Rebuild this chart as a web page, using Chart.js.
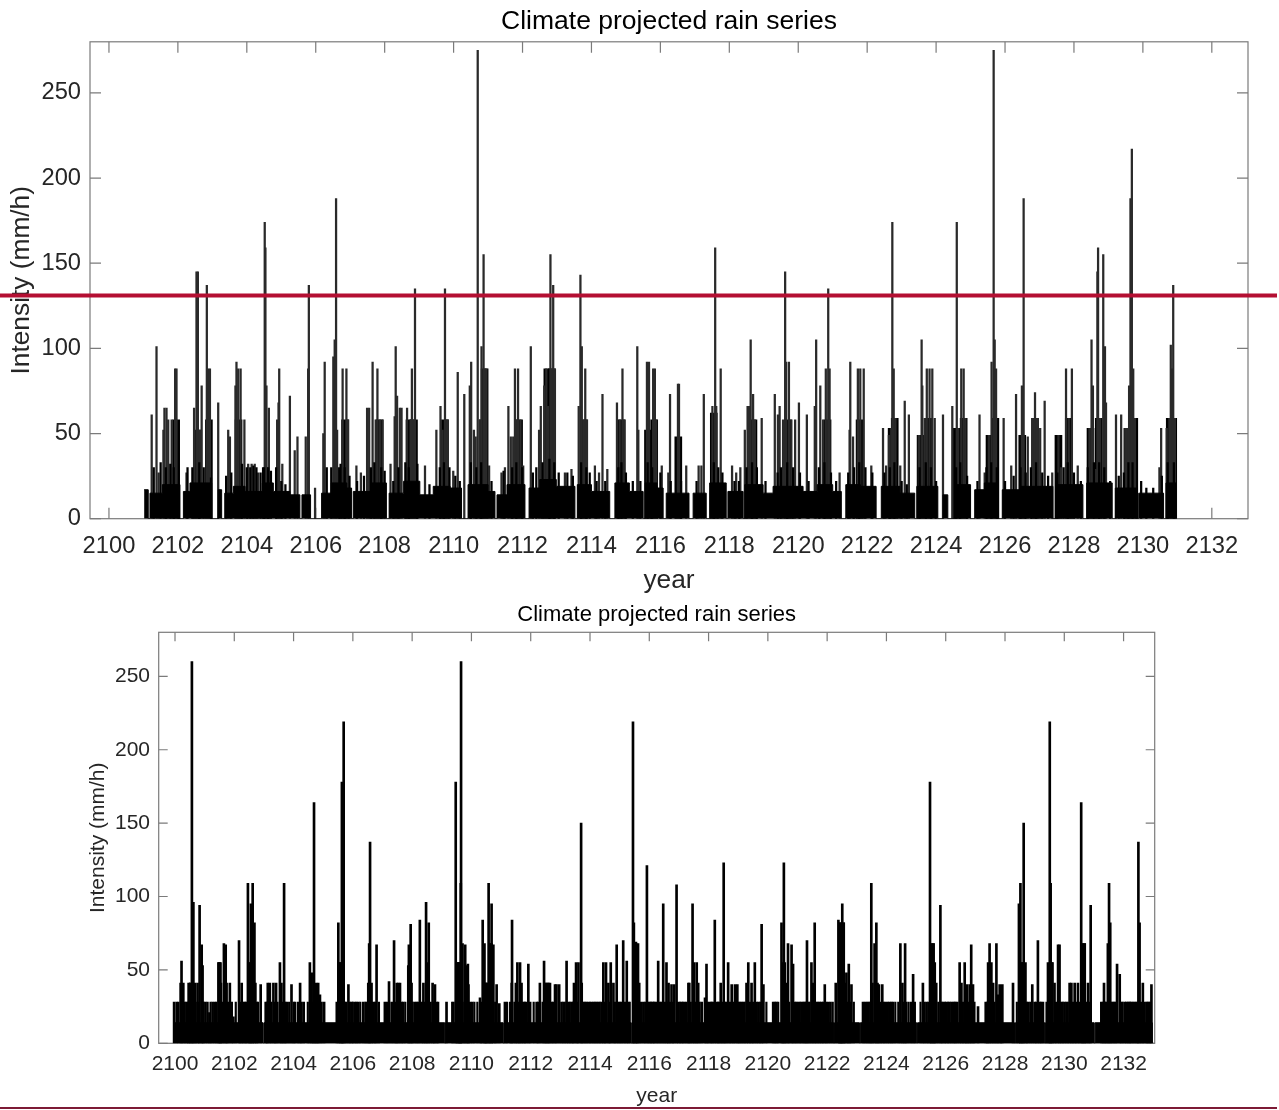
<!DOCTYPE html>
<html>
<head>
<meta charset="utf-8">
<title>Climate projected rain series</title>
<script src="https://cdn.jsdelivr.net/npm/chart.js@4.4.0/dist/chart.umd.min.js"></script>
<style>
  html, body { margin: 0; padding: 0; background: #fff; }
  #page { position: relative; width: 1279px; height: 1110px; overflow: hidden; }
  canvas { position: absolute; left: 0; }
  #cTop { top: 0; }
  #cBot { top: 590px; }
  #rule { position: absolute; left: 0; top: 1107px; width: 1277px; height: 2px; background: #7d1a35; }
</style>
</head>
<body>
<div id="page">
  <canvas id="cTop" width="1279" height="600"></canvas>
  <canvas id="cBot" width="1279" height="520"></canvas>
  <div id="rule"></div>
</div>
<script>
//Datos
const chartTitle = 'Climate projected rain series';
const xTickYears = [2100, 2102, 2104, 2106, 2108, 2110, 2112, 2114, 2116, 2118, 2120, 2122, 2124, 2126, 2128, 2130, 2132];
const yTickValues = [0, 50, 100, 150, 200, 250];
const threshold = 131; //linea roja del grafico superior

//Grafico superior: nivel denso de fondo (escalones) y picos
const topBaseYears = [2101.02, 2101.14, 2101.19, 2101.55, 2102.06, 2102.16, 2102.35, 2102.98, 2103.17, 2103.27,
  2103.36, 2103.61, 2103.95, 2104.45, 2104.77, 2105.25, 2105.54, 2105.6, 2105.85, 2106.17,
  2106.45, 2106.9, 2107.04, 2107.09, 2107.6, 2108.05, 2108.13, 2108.55, 2109.02, 2109.41,
  2109.9, 2110.23, 2110.42, 2111.0, 2111.2, 2111.26, 2111.55, 2112.07, 2112.19, 2112.5,
  2112.98, 2113.52, 2113.59, 2114.0, 2114.53, 2114.68, 2115.1, 2115.5, 2115.56, 2115.9,
  2116.08, 2116.17, 2116.83, 2116.95, 2117.33, 2117.43, 2117.91, 2117.96, 2118.4, 2118.45,
  2118.98, 2119.27, 2120.14, 2120.55, 2121.0, 2121.25, 2121.38, 2121.8, 2122.26, 2122.41,
  2122.95, 2123.38, 2123.44, 2124.05, 2124.2, 2124.34, 2124.54, 2125.0, 2125.12, 2125.4,
  2125.79, 2125.92, 2126.42, 2127.39, 2127.48, 2128.26, 2128.37, 2129.11, 2129.2, 2129.8,
  2129.88, 2130.6, 2130.67, 2130.96];
const topBaseLevels = [17, 0, 15, 20, 0, 16, 21, 0, 17, 0,
  15, 19, 16, 21, 16, 14, 0, 14, 0, 15,
  21, 18, 0, 16, 21, 0, 15, 22, 14, 19,
  18, 0, 20, 16, 0, 14, 20, 0, 18, 23,
  19, 0, 20, 16, 0, 21, 16, 0, 21, 18,
  0, 15, 0, 15, 0, 21, 0, 16, 0, 20,
  15, 19, 16, 20, 16, 0, 20, 19, 0, 19,
  15, 0, 19, 0, 14, 0, 20, 0, 17, 21,
  0, 17, 19, 0, 20, 0, 21, 0, 18, 0,
  15, 0, 21, 0];
const topSpikes = [
  [2101.24, 61], [2101.38, 101], [2101.44, 27], [2101.58, 52], [2101.61, 65], [2101.67, 65], [2101.72, 58], [2101.82, 58], [2101.92, 88], [2101.96, 88],
  [2102.25, 27], [2102.47, 65], [2102.54, 145], [2102.58, 145], [2102.64, 52], [2102.69, 78], [2102.84, 137], [2102.88, 88], [2102.93, 88],
  [2103.17, 68], [2103.46, 52], [2103.51, 48], [2103.67, 78], [2103.70, 92], [2103.75, 88], [2103.82, 88], [2103.93, 58],
  [2104.04, 32], [2104.14, 32], [2104.23, 32], [2104.33, 27], [2104.52, 174], [2104.54, 159], [2104.57, 78], [2104.64, 65], [2104.88, 58], [2104.92, 68], [2104.94, 88],
  [2105.03, 32], [2105.25, 72], [2105.39, 40], [2105.47, 48], [2105.71, 48], [2105.78, 88], [2105.80, 137], [2105.98, 18],
  [2106.22, 50], [2106.26, 92], [2106.51, 95], [2106.55, 105], [2106.59, 188], [2106.62, 52], [2106.78, 88], [2106.89, 88], [2106.94, 58],
  [2107.18, 31], [2107.31, 27], [2107.49, 65], [2107.55, 65], [2107.65, 92], [2107.74, 58], [2107.79, 88], [2107.86, 58], [2107.94, 58],
  [2108.17, 32], [2108.29, 60], [2108.32, 101], [2108.36, 72], [2108.44, 65], [2108.49, 65], [2108.65, 65], [2108.75, 58], [2108.79, 88], [2108.83, 58], [2108.88, 135],
  [2109.17, 31], [2109.50, 52], [2109.62, 66], [2109.68, 52], [2109.75, 135], [2109.79, 58], [2109.83, 58], [2109.99, 28],
  [2110.12, 86], [2110.31, 73], [2110.47, 78], [2110.51, 92], [2110.59, 52], [2110.64, 48], [2110.70, 275], [2110.76, 58], [2110.81, 101], [2110.87, 155], [2110.91, 88], [2110.95, 88],
  [2111.03, 31], [2111.39, 27], [2111.49, 30], [2111.59, 66], [2111.66, 48], [2111.73, 48], [2111.78, 88], [2111.84, 58], [2111.87, 88], [2111.94, 58],
  [2112.02, 31], [2112.24, 101], [2112.48, 52], [2112.53, 66], [2112.63, 78], [2112.69, 88], [2112.74, 66], [2112.81, 155], [2112.85, 88], [2112.89, 137], [2112.94, 88],
  [2113.23, 27], [2113.42, 29], [2113.63, 66], [2113.68, 143], [2113.72, 101], [2113.78, 58], [2113.82, 88], [2113.87, 58],
  [2114.10, 31], [2114.22, 27], [2114.32, 73], [2114.46, 29], [2114.74, 68], [2114.82, 58], [2114.90, 88], [2114.95, 58],
  [2115.33, 101], [2115.36, 52], [2115.61, 92], [2115.67, 92], [2115.79, 88], [2115.84, 88], [2115.88, 58],
  [2116.04, 31], [2116.23, 27], [2116.28, 73], [2116.51, 79], [2116.54, 79], [2116.75, 31],
  [2117.11, 31], [2117.19, 31], [2117.26, 73], [2117.51, 66], [2117.59, 159], [2117.62, 66], [2117.75, 88],
  [2118.08, 31], [2118.20, 27], [2118.32, 30], [2118.45, 52], [2118.53, 66], [2118.57, 66], [2118.62, 105], [2118.69, 73], [2118.74, 58], [2118.94, 59],
  [2119.32, 73], [2119.41, 61], [2119.46, 66], [2119.56, 58], [2119.62, 145], [2119.65, 92], [2119.73, 92], [2119.80, 58], [2119.91, 58],
  [2120.02, 68], [2120.25, 61], [2120.48, 66], [2120.52, 105], [2120.64, 78], [2120.72, 58], [2120.80, 88], [2120.87, 135], [2120.91, 88],
  [2121.20, 27], [2121.49, 52], [2121.51, 92], [2121.59, 48], [2121.73, 88], [2121.80, 88], [2121.90, 88],
  [2122.12, 31], [2122.46, 53], [2122.55, 31], [2122.63, 49], [2122.70, 53], [2122.73, 174], [2122.77, 88], [2122.82, 59], [2122.96, 31],
  [2123.09, 69], [2123.21, 61], [2123.50, 49], [2123.58, 105], [2123.60, 78], [2123.67, 59], [2123.73, 88], [2123.81, 88], [2123.89, 88], [2123.96, 59],
  [2124.20, 61], [2124.47, 66], [2124.60, 174], [2124.64, 53], [2124.73, 88], [2124.80, 88], [2124.85, 59],
  [2125.26, 61], [2125.41, 27], [2125.53, 49], [2125.61, 92], [2125.67, 275], [2125.70, 105], [2125.74, 88], [2125.96, 59],
  [2126.18, 31], [2126.32, 73], [2126.49, 78], [2126.54, 188], [2126.66, 48], [2126.81, 59], [2126.87, 74], [2126.93, 59],
  [2127.02, 53], [2127.15, 69], [2127.37, 27], [2127.55, 49], [2127.63, 30], [2127.77, 88], [2127.85, 59], [2127.94, 88],
  [2128.11, 31], [2128.45, 53], [2128.51, 105], [2128.55, 78], [2128.64, 29], [2128.68, 145], [2128.70, 159], [2128.76, 59], [2128.85, 155], [2128.90, 101], [2128.93, 68],
  [2129.22, 61], [2129.37, 61], [2129.49, 53], [2129.54, 53], [2129.60, 78], [2129.64, 188], [2129.68, 217], [2129.72, 88], [2129.77, 59],
  [2130.48, 30], [2130.53, 53], [2130.69, 53], [2130.77, 59], [2130.81, 102], [2130.85, 88], [2130.88, 137], [2130.93, 59]
];
//peine de barras bajas dentro de cada temporada
const topComb = [
  [2101.30, 30], [2101.50, 33], [2101.65, 30], [2101.78, 32], [2101.88, 30], [2102.02, 20], [2102.28, 30], [2102.42, 30], [2102.62, 33], [2102.75, 30],
  [2102.96, 24], [2103.40, 25], [2103.55, 27], [2103.86, 32], [2104.00, 30], [2104.10, 30], [2104.19, 31], [2104.28, 30], [2104.40, 27], [2104.50, 30],
  [2104.62, 30], [2104.70, 28], [2104.85, 30], [2105.00, 22], [2105.12, 20], [2106.32, 30], [2106.45, 30], [2106.68, 30], [2106.72, 32], [2106.84, 30],
  [2106.98, 25], [2107.20, 22], [2107.40, 25], [2107.60, 30], [2107.70, 33], [2107.90, 30], [2108.00, 28], [2108.25, 22], [2108.40, 30], [2108.60, 33],
  [2108.70, 30], [2108.95, 32], [2109.30, 20], [2109.60, 30], [2109.72, 33], [2109.88, 30], [2110.05, 25], [2110.18, 22], [2110.50, 33], [2110.66, 30],
  [2110.80, 33], [2111.10, 22], [2111.45, 28], [2111.70, 30], [2111.82, 33], [2111.99, 30], [2112.30, 27], [2112.40, 30], [2112.58, 33], [2112.78, 35],
  [2112.92, 33], [2113.05, 27], [2113.30, 27], [2113.46, 25], [2113.70, 33], [2113.85, 30], [2113.95, 27], [2114.15, 22], [2114.40, 22], [2114.78, 30],
  [2114.87, 33], [2115.00, 27], [2115.20, 22], [2115.42, 22], [2115.63, 33], [2115.76, 30], [2116.00, 27], [2116.30, 22], [2116.60, 22], [2117.05, 22],
  [2117.55, 33], [2117.68, 30], [2117.80, 27], [2118.15, 22], [2118.28, 22], [2118.50, 30], [2118.66, 33], [2118.80, 30], [2119.05, 22], [2119.40, 27],
  [2119.50, 30], [2119.68, 33], [2119.85, 30], [2120.05, 27], [2120.30, 22], [2120.60, 30], [2120.76, 33], [2120.95, 27], [2121.10, 22], [2121.45, 27],
  [2121.62, 30], [2121.77, 33], [2121.95, 30], [2122.15, 27], [2122.50, 27], [2122.66, 30], [2122.79, 33], [2123.00, 22], [2123.15, 20], [2123.52, 30],
  [2123.70, 33], [2123.85, 30], [2124.00, 22], [2124.58, 30], [2124.70, 33], [2124.90, 25], [2125.20, 22], [2125.46, 30], [2125.60, 33], [2125.76, 30],
  [2126.00, 22], [2126.25, 25], [2126.45, 30], [2126.60, 27], [2126.75, 30], [2126.90, 33], [2127.08, 27], [2127.25, 25], [2127.52, 27], [2127.70, 30],
  [2127.82, 33], [2128.00, 27], [2128.20, 22], [2128.40, 30], [2128.58, 33], [2128.73, 33], [2128.88, 30], [2129.05, 22], [2129.30, 25], [2129.45, 27],
  [2129.58, 33], [2129.70, 33], [2129.95, 22], [2130.10, 18], [2130.30, 18], [2130.55, 25], [2130.72, 33], [2130.90, 33]
];
//bloques densos (muchas barras juntas)
const topClumps = [
  [2101.95, 58], [2102.56, 52], [2102.90, 58], [2103.76, 58], [2104.55, 30], [2106.85, 58], [2107.85, 58], [2108.72, 58], [2108.85, 58],
  [2109.75, 58], [2110.85, 58], [2110.90, 88], [2111.90, 58], [2112.72, 88], [2112.85, 88], [2113.78, 58], [2114.88, 58], [2115.64, 52],
  [2115.82, 58], [2116.52, 48], [2117.55, 62], [2118.70, 58], [2119.70, 58], [2120.85, 58], [2121.78, 58], [2122.71, 53], [2122.80, 59],
  [2123.55, 49], [2123.78, 59], [2124.60, 53], [2124.80, 59], [2125.55, 49], [2125.72, 59], [2126.50, 49], [2126.87, 59], [2127.55, 49],
  [2127.85, 59], [2128.48, 53], [2128.72, 59], [2129.55, 53], [2129.75, 59], [2130.78, 59], [2130.88, 59]
];

//Grafico inferior
const botBaseYears = [2099.94, 2102.97, 2103.0, 2109.1, 2109.13, 2111.07, 2111.1, 2115.39, 2115.42, 2122.22,
  2122.25, 2123.09, 2123.12, 2125.02, 2125.05, 2128.32, 2128.35, 2129.34, 2129.37, 2131.01,
  2131.04, 2132.97];
const botBaseLevels = [14, 0, 14, 0, 14, 0, 14, 0, 14, 0,
  14, 0, 14, 0, 14, 0, 14, 0, 14, 0,
  14, 0];
const botSpikes = [
  [2099.97, 28], [2100.11, 28], [2100.19, 41], [2100.22, 56], [2100.28, 41], [2100.39, 28], [2100.46, 41], [2100.51, 41], [2100.57, 260], [2100.62, 96],
  [2100.67, 41], [2100.76, 41], [2100.83, 94], [2100.90, 67], [2100.93, 53], [2100.96, 28], [2101.03, 28], [2101.16, 21], [2101.27, 28], [2101.35, 28],
  [2101.48, 55], [2101.51, 55], [2101.55, 41], [2101.60, 28], [2101.65, 68], [2101.71, 67], [2101.74, 41], [2101.78, 28], [2101.85, 41], [2101.97, 18],
  [2102.16, 70], [2102.25, 41], [2102.30, 28], [2102.36, 28], [2102.46, 109], [2102.51, 55], [2102.56, 95], [2102.62, 109], [2102.68, 82], [2102.75, 28],
  [2102.89, 40], [2103.06, 28], [2103.13, 41], [2103.20, 41], [2103.32, 41], [2103.41, 41], [2103.54, 55], [2103.59, 41], [2103.68, 109], [2103.77, 28],
  [2103.93, 40], [2104.05, 28], [2104.22, 41], [2104.27, 28], [2104.55, 55], [2104.61, 48], [2104.69, 164], [2104.76, 41], [2104.80, 28], [2104.83, 41],
  [2104.89, 33], [2105.03, 28], [2105.51, 82], [2105.57, 55], [2105.63, 178], [2105.65, 41], [2105.69, 219], [2105.73, 28], [2105.85, 40], [2105.96, 28],
  [2106.07, 28], [2106.18, 28], [2106.35, 28], [2106.52, 41], [2106.55, 68], [2106.58, 137], [2106.63, 41], [2106.69, 28], [2106.80, 67], [2107.08, 28],
  [2107.22, 42], [2107.31, 28], [2107.39, 70], [2107.48, 41], [2107.53, 41], [2107.59, 41], [2107.70, 28], [2107.87, 53], [2107.89, 67], [2107.95, 81],
  [2107.98, 41], [2108.09, 28], [2108.20, 28], [2108.26, 84], [2108.38, 41], [2108.47, 96], [2108.51, 55], [2108.56, 82], [2108.62, 28], [2108.69, 41],
  [2108.77, 40], [2108.83, 28], [2109.16, 28], [2109.47, 178], [2109.50, 55], [2109.56, 55], [2109.60, 55], [2109.64, 109], [2109.65, 260], [2109.70, 68],
  [2109.79, 67], [2109.84, 53], [2109.88, 54], [2109.90, 40], [2109.95, 28], [2110.03, 28], [2110.29, 31], [2110.38, 84], [2110.44, 68], [2110.48, 41],
  [2110.51, 41], [2110.58, 109], [2110.63, 68], [2110.68, 95], [2110.74, 67], [2110.85, 40], [2110.94, 27], [2111.13, 28], [2111.36, 41], [2111.37, 84],
  [2111.50, 41], [2111.55, 55], [2111.64, 55], [2111.69, 41], [2111.75, 28], [2111.84, 28], [2111.92, 54], [2111.98, 28], [2112.20, 28], [2112.31, 41],
  [2112.45, 56], [2112.51, 41], [2112.59, 41], [2112.65, 41], [2112.71, 28], [2112.82, 40], [2112.87, 40], [2112.96, 40], [2113.04, 28], [2113.21, 56],
  [2113.27, 28], [2113.38, 28], [2113.46, 41], [2113.53, 55], [2113.61, 55], [2113.70, 150], [2113.72, 41], [2113.83, 28], [2113.94, 28], [2114.06, 28],
  [2114.17, 28], [2114.28, 28], [2114.39, 28], [2114.45, 55], [2114.54, 55], [2114.62, 41], [2114.70, 55], [2114.79, 41], [2114.90, 67], [2115.01, 28],
  [2115.12, 70], [2115.24, 56], [2115.29, 28], [2115.45, 219], [2115.48, 82], [2115.55, 69], [2115.62, 68], [2115.66, 41], [2115.80, 28], [2115.92, 121],
  [2116.02, 28], [2116.11, 28], [2116.19, 28], [2116.30, 56], [2116.36, 28], [2116.47, 95], [2116.52, 28], [2116.58, 55], [2116.65, 41], [2116.75, 40],
  [2116.84, 40], [2116.92, 108], [2116.98, 28], [2117.09, 28], [2117.20, 28], [2117.32, 41], [2117.35, 41], [2117.46, 95], [2117.51, 55], [2117.60, 55],
  [2117.65, 41], [2117.77, 28], [2117.88, 31], [2117.93, 54], [2118.05, 28], [2118.14, 28], [2118.21, 84], [2118.27, 28], [2118.36, 28], [2118.41, 41],
  [2118.51, 123], [2118.55, 28], [2118.66, 55], [2118.78, 40], [2118.89, 40], [2118.97, 40], [2119.06, 28], [2119.17, 28], [2119.28, 41], [2119.34, 55],
  [2119.45, 41], [2119.56, 55], [2119.68, 28], [2119.79, 81], [2119.85, 40], [2120.18, 28], [2120.24, 28], [2120.29, 28], [2120.46, 82], [2120.50, 55],
  [2120.54, 123], [2120.57, 55], [2120.62, 41], [2120.68, 68], [2120.80, 67], [2120.85, 54], [2120.91, 28], [2121.02, 28], [2121.19, 28], [2121.24, 28],
  [2121.32, 70], [2121.36, 28], [2121.47, 55], [2121.52, 41], [2121.58, 82], [2121.63, 28], [2121.69, 28], [2121.75, 28], [2121.81, 28], [2121.92, 40],
  [2122.03, 28], [2122.18, 28], [2122.29, 41], [2122.38, 84], [2122.42, 82], [2122.46, 55], [2122.51, 95], [2122.56, 82], [2122.60, 41], [2122.65, 48],
  [2122.73, 54], [2122.82, 40], [2123.21, 28], [2123.28, 28], [2123.35, 28], [2123.49, 109], [2123.53, 41], [2123.60, 68], [2123.66, 82], [2123.70, 41],
  [2123.75, 40], [2123.86, 40], [2123.98, 28], [2124.11, 28], [2124.22, 28], [2124.47, 68], [2124.54, 41], [2124.63, 68], [2124.67, 28], [2124.90, 47],
  [2125.23, 41], [2125.35, 28], [2125.47, 178], [2125.52, 68], [2125.59, 68], [2125.63, 55], [2125.68, 41], [2125.82, 94], [2125.91, 28], [2126.02, 28],
  [2126.13, 28], [2126.25, 28], [2126.34, 28], [2126.47, 55], [2126.53, 41], [2126.64, 55], [2126.72, 40], [2126.81, 40], [2126.86, 67], [2126.92, 40],
  [2127.09, 25], [2127.35, 28], [2127.43, 55], [2127.48, 68], [2127.54, 55], [2127.60, 41], [2127.71, 68], [2127.76, 33], [2127.82, 40], [2127.91, 40],
  [2128.27, 41], [2128.47, 95], [2128.52, 109], [2128.58, 55], [2128.63, 150], [2128.69, 55], [2128.78, 28], [2128.92, 40], [2129.00, 28], [2129.11, 70],
  [2129.17, 28], [2129.28, 28], [2129.45, 55], [2129.51, 219], [2129.54, 109], [2129.60, 55], [2129.67, 41], [2129.79, 67], [2129.84, 67], [2129.90, 28],
  [2130.01, 28], [2130.18, 41], [2130.24, 41], [2130.29, 28], [2130.35, 41], [2130.46, 41], [2130.57, 164], [2130.63, 68], [2130.69, 68], [2130.80, 41],
  [2130.89, 94], [2131.25, 28], [2131.34, 41], [2131.42, 28], [2131.47, 68], [2131.51, 109], [2131.55, 82], [2131.64, 28], [2131.78, 54], [2131.87, 47],
  [2131.92, 28], [2132.04, 28], [2132.09, 28], [2132.18, 28], [2132.26, 28], [2132.32, 28], [2132.43, 28], [2132.50, 137], [2132.54, 82], [2132.60, 28],
  [2132.65, 41], [2132.77, 28], [2132.86, 28], [2132.94, 40]
];
//barras de ~28 que rellenan la franja baja
const botComb = [
  [2100.05, 28], [2100.33, 28], [2100.43, 28], [2100.70, 28], [2100.80, 28], [2101.10, 28], [2101.20, 28], [2101.40, 28], [2101.92, 28], [2102.05, 28],
  [2102.20, 28], [2102.40, 28], [2102.72, 41], [2102.80, 28], [2103.10, 28], [2103.25, 28], [2103.37, 28], [2103.46, 28], [2103.63, 28], [2103.72, 28],
  [2103.85, 28], [2104.00, 28], [2104.15, 28], [2104.35, 28], [2104.48, 28], [2104.65, 28], [2104.72, 28], [2104.95, 28], [2105.45, 28], [2105.78, 28],
  [2105.90, 28], [2106.00, 28], [2106.12, 28], [2106.25, 28], [2106.42, 28], [2106.46, 28], [2106.75, 28], [2106.88, 28], [2107.15, 28], [2107.45, 28],
  [2107.65, 28], [2107.77, 28], [2108.02, 28], [2108.15, 28], [2108.33, 28], [2108.42, 28], [2108.73, 28], [2108.88, 28], [2109.35, 28], [2109.40, 28],
  [2109.76, 28], [2110.10, 28], [2110.20, 28], [2110.33, 28], [2110.80, 28], [2111.20, 28], [2111.30, 28], [2111.45, 28], [2111.60, 28], [2111.80, 28],
  [2112.10, 28], [2112.25, 28], [2112.40, 28], [2112.76, 28], [2113.10, 28], [2113.15, 28], [2113.32, 28], [2113.42, 28], [2113.58, 28], [2113.78, 28],
  [2113.88, 28], [2114.00, 28], [2114.12, 28], [2114.22, 28], [2114.33, 28], [2114.50, 28], [2114.66, 28], [2114.84, 28], [2114.96, 28], [2115.06, 28],
  [2115.18, 28], [2115.34, 28], [2115.58, 28], [2115.72, 28], [2115.86, 28], [2115.97, 28], [2116.06, 28], [2116.15, 28], [2116.25, 28], [2116.41, 28],
  [2116.62, 28], [2116.70, 28], [2116.80, 28], [2117.04, 28], [2117.14, 28], [2117.26, 28], [2117.40, 28], [2117.56, 28], [2117.70, 28], [2117.98, 28],
  [2118.10, 28], [2118.32, 28], [2118.46, 28], [2118.60, 28], [2118.72, 28], [2118.84, 28], [2119.01, 28], [2119.11, 28], [2119.22, 28], [2119.40, 28],
  [2119.50, 28], [2119.62, 28], [2119.74, 28], [2119.95, 28], [2120.35, 28], [2120.72, 28], [2120.96, 28], [2121.08, 28], [2121.13, 28], [2121.28, 28],
  [2121.41, 28], [2121.86, 28], [2121.97, 28], [2122.10, 28], [2122.70, 28], [2122.77, 28], [2122.90, 28], [2123.40, 28], [2123.45, 28], [2123.80, 28],
  [2123.92, 28], [2124.05, 28], [2124.17, 28], [2124.30, 28], [2124.40, 28], [2124.58, 28], [2124.75, 28], [2124.83, 28], [2124.96, 28], [2125.15, 28],
  [2125.28, 28], [2125.41, 28], [2125.75, 28], [2125.86, 28], [2125.97, 28], [2126.08, 28], [2126.19, 28], [2126.30, 28], [2126.40, 28], [2126.58, 28],
  [2126.68, 28], [2126.76, 28], [2126.97, 28], [2127.40, 28], [2127.65, 28], [2127.87, 28], [2128.40, 28], [2128.73, 28], [2128.85, 28], [2129.05, 28],
  [2129.22, 28], [2129.40, 28], [2129.72, 28], [2129.95, 28], [2130.07, 28], [2130.12, 28], [2130.40, 28], [2130.51, 28], [2130.75, 28], [2130.85, 28],
  [2131.30, 28], [2131.38, 28], [2131.59, 28], [2131.69, 28], [2131.73, 28], [2131.97, 28], [2132.14, 28], [2132.22, 28], [2132.37, 28], [2132.47, 28],
  [2132.70, 28], [2132.81, 28], [2132.90, 28]
];
const botClumps = [
  [2100.55, 41], [2101.50, 55], [2102.58, 55], [2105.60, 55], [2109.55, 55], [2109.62, 55], [2110.50, 41], [2110.65, 68],
  [2112.55, 41], [2115.52, 68], [2122.45, 82], [2122.52, 82], [2125.55, 68], [2128.55, 55], [2129.55, 55], [2130.65, 68]
];
//Fin de datos

const FONT = '"Liberation Sans", Arial, Helvetica, sans-serif';
const TEXT = '#262626';

const pares = (xs, ys) => xs.map((x, i) => ({ x: x, y: ys[i] }));
const puntos = lista => lista.map(p => ({ x: p[0], y: p[1] }));

//Caja y marcas hacia adentro, estilo matlab
const ejesMatlab = {
    id: 'ejesMatlab',
    beforeDatasetsDraw(chart, args, opts) {
        const { ctx, chartArea: a, scales: { x, y } } = chart;
        const L = opts.tickLen || 10;
        ctx.save();
        ctx.strokeStyle = opts.color || '#7b7b7b';
        ctx.lineWidth = opts.width || 1.2;
        ctx.strokeRect(a.left, a.top, a.right - a.left, a.bottom - a.top);
        ctx.beginPath();
        x.ticks.forEach(t => {
            const px = x.getPixelForValue(t.value);
            ctx.moveTo(px, a.bottom); ctx.lineTo(px, a.bottom - L);
            ctx.moveTo(px, a.top); ctx.lineTo(px, a.top + L);
        });
        y.ticks.forEach(t => {
            const py = y.getPixelForValue(t.value);
            ctx.moveTo(a.left, py); ctx.lineTo(a.left + L, py);
            ctx.moveTo(a.right, py); ctx.lineTo(a.right - L, py);
        });
        ctx.stroke();
        ctx.restore();
    }
};

//Linea roja de umbral que cruza todo el ancho
const lineaUmbral = {
    id: 'lineaUmbral',
    afterDraw(chart, args, opts) {
        const y = chart.scales.y.getPixelForValue(opts.value);
        const ctx = chart.ctx;
        ctx.save();
        ctx.strokeStyle = opts.color;
        ctx.lineWidth = opts.width;
        ctx.beginPath();
        ctx.moveTo(0, y);
        ctx.lineTo(chart.width - 2, y);
        ctx.stroke();
        ctx.restore();
    }
};

const crearGrafico = (id, cfg, extraPlugins) => {
    var ctx = document.getElementById(id).getContext('2d');
    return new Chart(ctx, {
        type: 'bar',
        data: {
            datasets: [{
                type: 'line',
                data: pares(cfg.baseYears, cfg.baseLevels),
                stepped: true,
                fill: 'origin',
                backgroundColor: '#000',
                borderColor: '#000',
                borderWidth: 1,
                pointRadius: 0
            },
            {
                data: puntos(cfg.comb),
                backgroundColor: '#000',
                barThickness: cfg.combWidth,
                grouped: false
            },
            {
                data: puntos(cfg.spikes),
                backgroundColor: cfg.spikeColor,
                barThickness: cfg.spikeWidth,
                grouped: false
            },
            {
                data: puntos(cfg.clumps),
                backgroundColor: '#000',
                barThickness: cfg.clumpWidth,
                grouped: false
            }]
        },
        options: {
            responsive: false,
            animation: false,
            events: [],
            layout: { padding: { left: 0, right: cfg.padRight, top: 0, bottom: 0 } },
            plugins: {
                legend: { display: false },
                tooltip: { enabled: false },
                title: {
                    display: true,
                    fullSize: false,
                    text: chartTitle,
                    color: '#000',
                    font: { family: FONT, size: cfg.titleSize, weight: 'normal' },
                    padding: cfg.titlePad
                },
                ejesMatlab: { tickLen: cfg.tickLen, color: '#7b7b7b', width: 1.2 },
                lineaUmbral: { value: threshold, color: '#b40f32', width: 4 }
            },
            scales: {
                x: {
                    type: 'linear',
                    min: 2099.45,
                    max: 2133.05,
                    offset: false,
                    grid: { display: false, drawTicks: false },
                    border: { display: false },
                    afterBuildTicks: s => { s.ticks = xTickYears.map(v => ({ value: v })) },
                    afterFit: s => { s.height = cfg.xHeight },
                    ticks: {
                        autoSkip: false, maxRotation: 0, color: TEXT, padding: cfg.xTickPad,
                        font: { family: FONT, size: cfg.tickSize },
                        callback: v => String(v)
                    },
                    title: {
                        display: true, text: 'year', color: TEXT,
                        font: { family: FONT, size: cfg.labelSize },
                        padding: { top: 0, bottom: cfg.xTitlePad }
                    }
                },
                y: {
                    min: 0,
                    max: 280,
                    grid: { display: false, drawTicks: false },
                    border: { display: false },
                    afterBuildTicks: s => { s.ticks = yTickValues.map(v => ({ value: v })) },
                    afterFit: s => { s.width = cfg.yWidth },
                    ticks: {
                        color: TEXT, padding: cfg.yTickPad,
                        font: { family: FONT, size: cfg.tickSize },
                        callback: v => String(v)
                    },
                    title: {
                        display: true, text: 'Intensity (mm/h)', color: TEXT,
                        font: { family: FONT, size: cfg.labelSize },
                        padding: { top: cfg.yTitlePad, bottom: 0 }
                    }
                }
            }
        },
        plugins: [ejesMatlab].concat(extraPlugins)
    });
}

//Grafico superior (con linea de umbral)
crearGrafico('cTop', {
    baseYears: topBaseYears, baseLevels: topBaseLevels,
    spikes: topSpikes, comb: topComb, clumps: topClumps,
    spikeColor: '#2a2a2a', spikeWidth: 1.6, combWidth: 1.6, clumpWidth: 7,
    padRight: 31, titleSize: 26.5, titlePad: { top: 6, bottom: 4 },
    tickSize: 23.7, labelSize: 26.3, tickLen: 11,
    xHeight: 81.3, xTickPad: 14, xTitlePad: 3.5,
    yWidth: 90, yTickPad: 9, yTitlePad: 5.5
}, [lineaUmbral]);

//Grafico inferior
crearGrafico('cBot', {
    baseYears: botBaseYears, baseLevels: botBaseLevels,
    spikes: botSpikes, comb: botComb, clumps: botClumps,
    spikeColor: '#000', spikeWidth: 2, combWidth: 1.5, clumpWidth: 4,
    padRight: 124.3, titleSize: 22, titlePad: { top: 11.8, bottom: 4.1 },
    tickSize: 21, labelSize: 21, tickLen: 9,
    xHeight: 66.7, xTickPad: 8, xTitlePad: 1.5,
    yWidth: 158.7, yTickPad: 8.7, yTitlePad: 85.5
}, []);
</script>
</body>
</html>
